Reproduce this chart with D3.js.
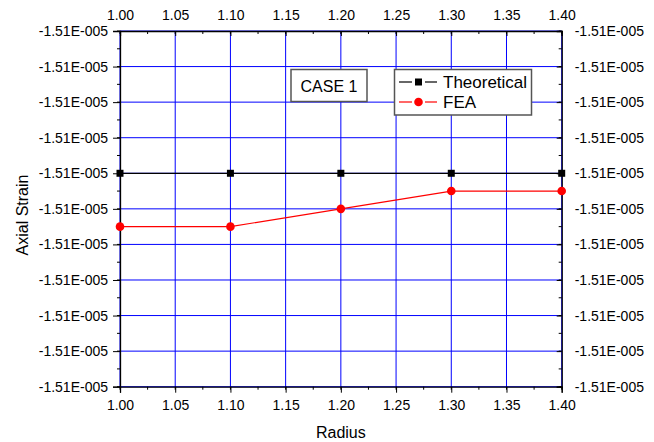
<!DOCTYPE html>
<html>
<head>
<meta charset="utf-8">
<script src="https://cdn.jsdelivr.net/npm/d3@7"></script>
<style>
  html, body { margin: 0; padding: 0; background: #fff; }
  svg { display: block; font-family: "Liberation Sans", Arial, sans-serif; }
</style>
</head>
<body>
<svg id="chart" width="654" height="442"></svg>
<script>
// Axial strain vs. radius, CASE 1
const radius = [1.00, 1.10, 1.20, 1.30, 1.40];
const theoretical = [-1.5100e-5, -1.5100e-5, -1.5100e-5, -1.5100e-5, -1.5100e-5];
const fea = [-1.51015e-5, -1.51015e-5, -1.5101e-5, -1.51005e-5, -1.51005e-5];

const xTicks = [1.00, 1.05, 1.10, 1.15, 1.20, 1.25, 1.30, 1.35, 1.40];
const yTicks = [-1.5096e-5, -1.5097e-5, -1.5098e-5, -1.5099e-5, -1.5100e-5, -1.5101e-5,
                -1.5102e-5, -1.5103e-5, -1.5104e-5, -1.5105e-5, -1.5106e-5];
const seriesNames = ["Theoretical", "FEA"];
const caseLabel = "CASE 1";

const svg = d3.select("#chart");
const pL = 120, pR = 561.7, pT = 31, pB = 386.7;

const x = d3.scaleLinear().domain([1.00, 1.40]).range([pL, pR]);
const y = d3.scaleLinear().domain([-1.5096e-5, -1.5106e-5]).range([pT, pB]);

// Origin-style exponent label, e.g. -1.51E-005
function sci(v) {
  const s = v.toExponential(2);
  const [m, e] = s.split("e");
  const sign = e[0] === "-" ? "-" : "+";
  const digits = e.replace(/[+-]/, "").padStart(3, "0");
  return m + "E" + sign + digits;
}
const fx = d3.format(".2f");

const xMinor = d3.range(0, 17).map(i => 1.00 + i * 0.025);
const yMinor = d3.range(0, 21).map(i => -1.5096e-5 - i * 0.5e-9);

// Grid
const grid = svg.append("g");
grid.selectAll("line.gx").data(xTicks).join("line")
  .attr("x1", d => x(d)).attr("x2", d => x(d))
  .attr("y1", pT).attr("y2", pB)
  .attr("stroke", "#0000ff").attr("stroke-width", 1);
grid.selectAll("line.gy").data(yTicks).join("line")
  .attr("x1", pL).attr("x2", pR)
  .attr("y1", d => y(d)).attr("y2", d => y(d))
  .attr("stroke", "#0000ff").attr("stroke-width", 1);

// Axes
const fs = "14px";
const axB = svg.append("g").attr("transform", `translate(0,${pB})`)
  .call(d3.axisBottom(x).tickValues(xTicks).tickFormat(fx).tickSize(6).tickPadding(4));
const axT = svg.append("g").attr("transform", `translate(0,${pT})`)
  .call(d3.axisTop(x).tickValues(xTicks).tickFormat(fx).tickSize(-5).tickPadding(11));
const axL = svg.append("g").attr("transform", `translate(${pL},0)`)
  .call(d3.axisLeft(y).tickValues(yTicks).tickFormat(sci).tickSize(7).tickPadding(5));
const axR = svg.append("g").attr("transform", `translate(${pR},0)`)
  .call(d3.axisRight(y).tickValues(yTicks).tickFormat(sci).tickSize(-5).tickPadding(13));
[axB, axT, axL, axR].forEach(a => {
  a.selectAll("text").attr("font-size", fs).attr("fill", "#000")
    .attr("font-family", "Liberation Sans, Arial, sans-serif");
  a.selectAll("line").attr("stroke", "#000");
  a.select(".domain").attr("stroke", "#000").attr("stroke-width", 1.3);
});
axT.selectAll("text").attr("dy", "0");
axB.selectAll("text").attr("dy", "0.95em");

// Minor ticks
const minor = svg.append("g").attr("stroke", "#000").attr("stroke-width", 1);
minor.selectAll("line.mb").data(xMinor).join("line")
  .attr("x1", d => x(d)).attr("x2", d => x(d)).attr("y1", pB).attr("y2", pB + 3);
minor.selectAll("line.mt").data(xMinor).join("line")
  .attr("x1", d => x(d)).attr("x2", d => x(d)).attr("y1", pT).attr("y2", pT + 3);
minor.selectAll("line.ml").data(yMinor).join("line")
  .attr("x1", pL - 3).attr("x2", pL).attr("y1", d => y(d)).attr("y2", d => y(d));
minor.selectAll("line.mr").data(yMinor).join("line")
  .attr("x1", pR - 3).attr("x2", pR).attr("y1", d => y(d)).attr("y2", d => y(d));

// Series
const theoData = radius.map((r, i) => [r, theoretical[i]]);
const feaData = radius.map((r, i) => [r, fea[i]]);
const line = d3.line().x(d => x(d[0])).y(d => y(d[1]));

svg.append("path").datum(theoData).attr("d", line)
  .attr("fill", "none").attr("stroke", "#000").attr("stroke-width", 1.2);
svg.append("path").datum(feaData).attr("d", line)
  .attr("fill", "none").attr("stroke", "#ff0000").attr("stroke-width", 1.2);

svg.selectAll("rect.pt").data(theoData).join("rect")
  .attr("x", d => x(d[0]) - 3.5).attr("y", d => y(d[1]) - 3.5)
  .attr("width", 7).attr("height", 7).attr("fill", "#000");
svg.selectAll("circle.pt").data(feaData).join("circle")
  .attr("cx", d => x(d[0])).attr("cy", d => y(d[1])).attr("r", 4.3)
  .attr("fill", "#ff0000");

// Axis titles
svg.append("text").attr("x", (pL + pR) / 2).attr("y", 438)
  .attr("text-anchor", "middle").attr("font-size", "16px").text("Radius");
svg.append("text").attr("transform", "translate(28,215) rotate(-90)")
  .attr("text-anchor", "middle").attr("font-size", "16px").text("Axial Strain");

// Case label box
svg.append("rect").attr("x", 291).attr("y", 69.5).attr("width", 76).attr("height", 32)
  .attr("fill", "#fff").attr("stroke", "#555").attr("stroke-width", 1.5);
svg.append("text").attr("x", 329).attr("y", 91.5).attr("text-anchor", "middle")
  .attr("font-size", "16px").text(caseLabel);

// Legend
const lg = svg.append("g");
lg.append("rect").attr("x", 394.5).attr("y", 69.5).attr("width", 137).attr("height", 45.5)
  .attr("fill", "#fff").attr("stroke", "#555").attr("stroke-width", 1.5);
const legendRows = [
  { name: seriesNames[0], color: "#000", shape: "square", cy: 82 },
  { name: seriesNames[1], color: "#ff0000", shape: "circle", cy: 102 }
];
legendRows.forEach(r => {
  // line segments on either side of the symbol, with a small gap
  [[399, 412], [425, 437]].forEach(([a, b]) => {
    lg.append("line").attr("x1", a).attr("x2", b).attr("y1", r.cy).attr("y2", r.cy)
      .attr("stroke", r.color).attr("stroke-width", 1.2);
  });
  if (r.shape === "square") {
    lg.append("rect").attr("x", 418.5 - 3.5).attr("y", r.cy - 3.5).attr("width", 7).attr("height", 7)
      .attr("fill", r.color);
  } else {
    lg.append("circle").attr("cx", 418.5).attr("cy", r.cy).attr("r", 4.3).attr("fill", r.color);
  }
  lg.append("text").attr("x", 443).attr("y", r.cy + 6).attr("font-size", "17px").text(r.name);
});
</script>
</body>
</html>
